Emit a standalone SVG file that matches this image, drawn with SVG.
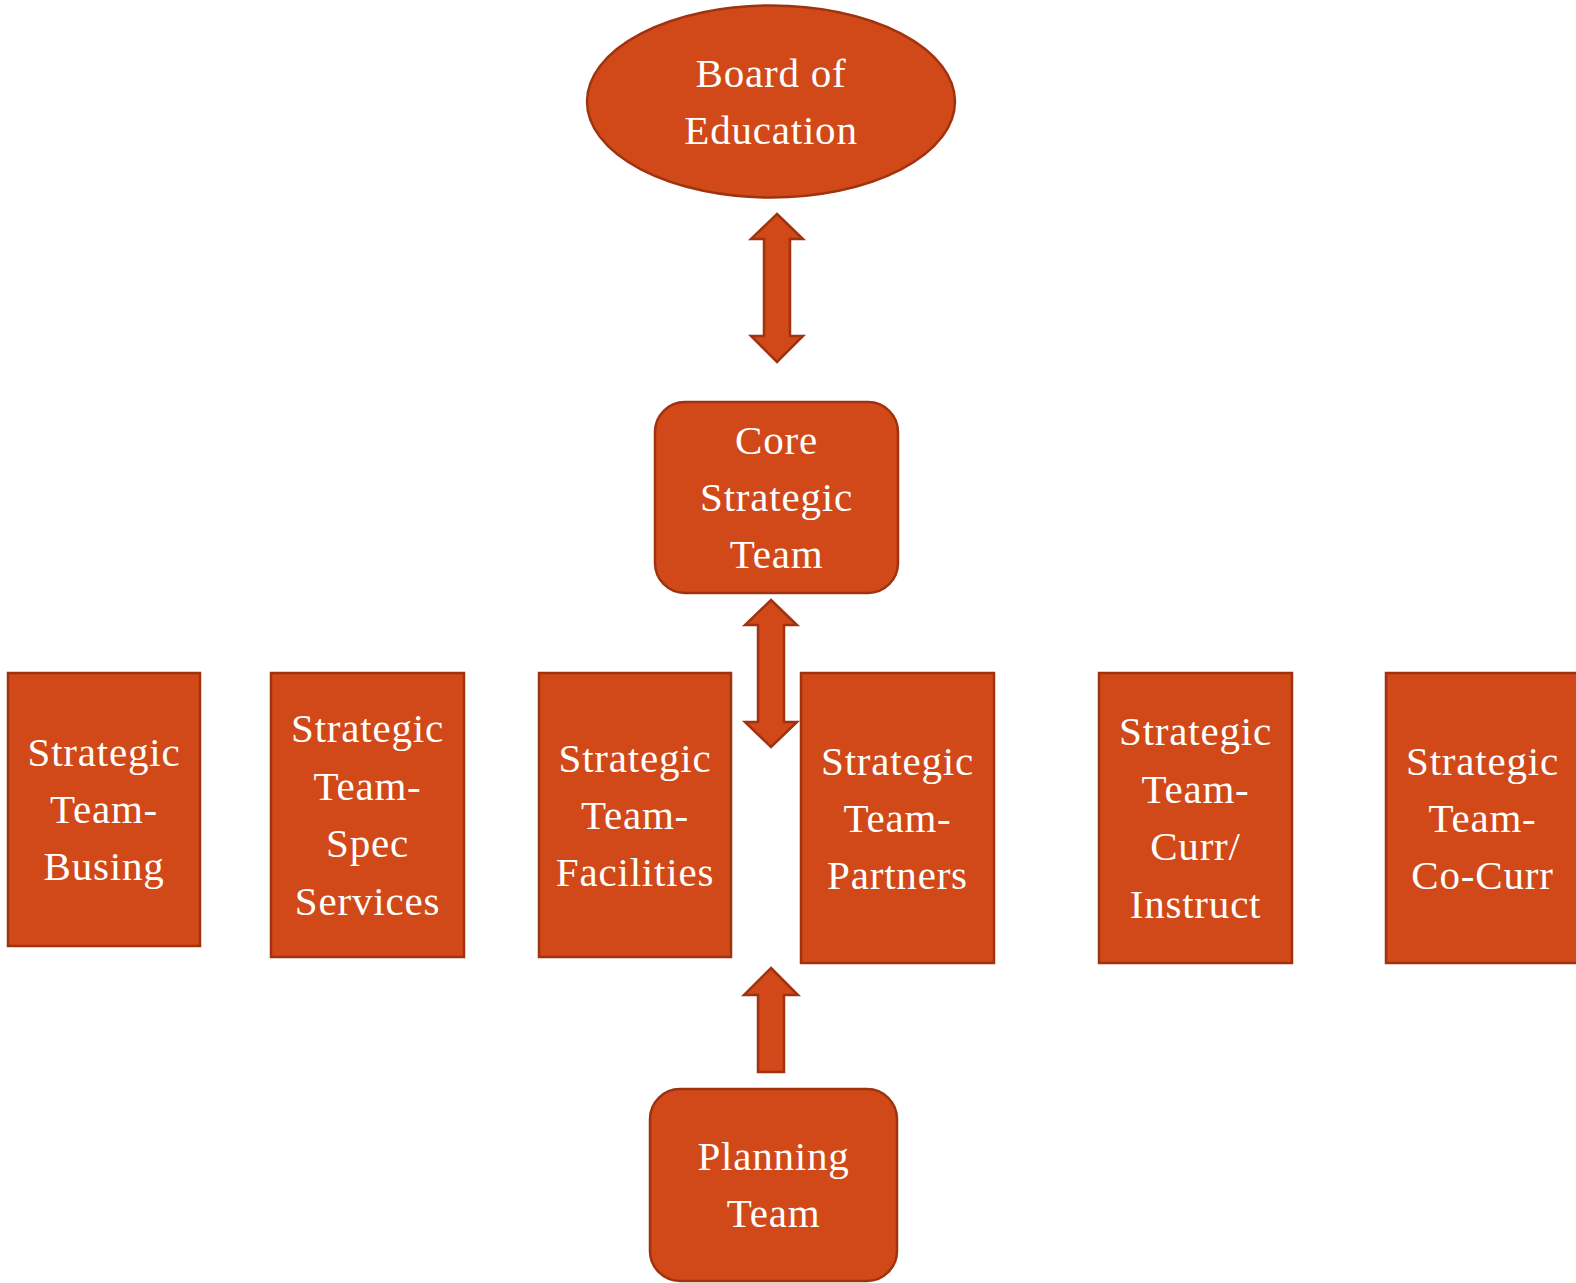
<svg xmlns="http://www.w3.org/2000/svg" width="1576" height="1283" viewBox="0 0 1576 1283">
<style>
.n{fill:#D14918;stroke:#A0330F;stroke-width:2.5}
.a{fill:#D14918;stroke:#A0330F;stroke-width:2.5;stroke-linejoin:miter}
.t{font-family:"Liberation Serif","Times New Roman",serif;font-size:41px;letter-spacing:0.8px;fill:#FFFFFF;text-anchor:middle}
</style>
<rect width="1576" height="1283" fill="#FFFFFF"/>
<g id="connectors">
<path class="a" d="M777,214 L803,239 L790,239 L790,336 L803,336 L777,362 L751,336 L764,336 L764,239 L751,239 Z"/>
<path class="a" d="M771,600 L797,625 L784,625 L784,722 L797,722 L771,747 L745,722 L758,722 L758,625 L745,625 Z"/>
<path class="a" d="M771,968 L798,995 L784,995 L784,1072 L758,1072 L758,995 L744,995 Z"/>
</g>
<g id="board">
<ellipse class="n" cx="771" cy="101.5" rx="184" ry="96"/>
<text class="t" x="771" y="86.5">Board of</text>
<text class="t" x="771" y="143.5">Education</text>
</g>
<g id="core">
<rect class="n" x="655" y="402" width="243" height="191" rx="30"/>
<text class="t" x="776.5" y="454">Core</text>
<text class="t" x="776.5" y="511">Strategic</text>
<text class="t" x="776.5" y="568">Team</text>
</g>
<g id="busing">
<rect class="n" x="8" y="673" width="192" height="273"/>
<text class="t" x="104" y="766">Strategic</text>
<text class="t" x="104" y="823">Team-</text>
<text class="t" x="104" y="880">Busing</text>
</g>
<g id="spec">
<rect class="n" x="271" y="673" width="193" height="284"/>
<text class="t" x="367.5" y="742">Strategic</text>
<text class="t" x="367.5" y="799.5">Team-</text>
<text class="t" x="367.5" y="857">Spec</text>
<text class="t" x="367.5" y="914.5">Services</text>
</g>
<g id="facilities">
<rect class="n" x="539" y="673" width="192" height="284"/>
<text class="t" x="635" y="771.5">Strategic</text>
<text class="t" x="635" y="828.5">Team-</text>
<text class="t" x="635" y="885.5">Facilities</text>
</g>
<g id="partners">
<rect class="n" x="801" y="673" width="193" height="290"/>
<text class="t" x="897.5" y="774.5">Strategic</text>
<text class="t" x="897.5" y="831.5">Team-</text>
<text class="t" x="897.5" y="888.5">Partners</text>
</g>
<g id="curr">
<rect class="n" x="1099" y="673" width="193" height="290"/>
<text class="t" x="1195.5" y="745">Strategic</text>
<text class="t" x="1195.5" y="802.5">Team-</text>
<text class="t" x="1195.5" y="860">Curr/</text>
<text class="t" x="1195.5" y="917.5">Instruct</text>
</g>
<g id="cocurr">
<rect class="n" x="1386" y="673" width="193" height="290"/>
<text class="t" x="1482.5" y="774.5">Strategic</text>
<text class="t" x="1482.5" y="831.5">Team-</text>
<text class="t" x="1482.5" y="888.5">Co-Curr</text>
</g>
<g id="planning">
<rect class="n" x="650" y="1089" width="247" height="192" rx="30"/>
<text class="t" x="773.5" y="1170">Planning</text>
<text class="t" x="773.5" y="1227">Team</text>
</g>
</svg>
